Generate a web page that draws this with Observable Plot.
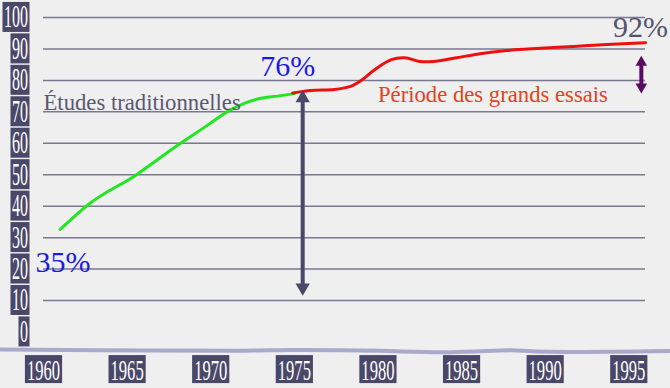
<!DOCTYPE html>
<html><head><meta charset="utf-8">
<script src="https://cdn.jsdelivr.net/npm/d3@7"></script>
<script src="https://cdn.jsdelivr.net/npm/@observablehq/plot@0.6"></script>
<style>
html,body{margin:0;padding:0;background:#efeff0;}
#chart{width:670px;height:388px;overflow:hidden;}
svg{display:block;}
</style></head><body><div id="chart"></div>
<script>
// ---- data ----
const xTicks = [1960, 1965, 1970, 1975, 1980, 1985, 1990, 1995];
const yTicks = [0, 10, 20, 30, 40, 50, 60, 70, 80, 90, 100];
const gridValues = [10, 20, 30, 40, 50, 60, 70, 80, 90, 100];

const tradYears = [1961.0, 1962.8, 1965.5, 1968.0, 1969.8, 1971.1, 1972.2, 1973.0, 1974.0, 1975.0];
const tradRates = [32.6, 41.0, 49.8, 59.3, 65.7, 70.4, 73.1, 74.3, 75.0, 75.8];

const trialYears = [1974.9, 1976.0, 1977.4, 1978.3, 1979.0, 1979.8, 1980.8, 1981.6, 1982.5, 1983.3, 1984.7, 1986.1, 1987.7, 1989.7, 1991.7, 1993.7, 1996.0];
const trialRates = [76.0, 76.8, 77.1, 78.0, 80.0, 83.4, 86.6, 87.2, 86.0, 86.0, 87.2, 88.5, 89.5, 90.2, 90.8, 91.4, 92.0];

const pctLabels = ["35%", "76%", "92%"];
const pctYears = [1961.17, 1974.6, 1995.7];
const pctValues = [22.0, 84.5, 97.0];

const periodLabels = ["Études traditionnelles", "Période des grands essais"];
const periodYears = [1960.0, 1980.0];
const periodValues = [72.9, 75.4];

const gapArrowYear = [1975.5];
const gapArrowTop = [77.0];
const gapArrowBottom = [11.5];

const trialArrowYear = [1995.75];
const trialArrowTop = [87.9];
const trialArrowBottom = [75.8];

const waveYears = [1957.4, 1963.4, 1971.2, 1974.8, 1980.1, 1984.3, 1987.9, 1990.3, 1996.3, 1997.5];
const waveLevels = [-5.6, -5.8, -6.0, -5.7, -6.0, -6.4, -5.8, -6.3, -6.1, -6.0];

// ---- chart ----
const FONT = "Liberation Serif";
const idx = (arr) => arr.map((_, i) => i);

const chart = Plot.plot({
  width: 670, height: 388,
  marginLeft: 43, marginRight: 25, marginTop: 17, marginBottom: 56.5,
  style: {background: "transparent", overflow: "visible"},
  x: {domain: [1960, 1996]},
  y: {domain: [0, 100]},
  marks: [
    Plot.line(idx(waveYears), {x: i => waveYears[i], y: i => waveLevels[i], stroke: "#9c9cc4", strokeWidth: 4, strokeOpacity: 0.85, curve: "natural"}),
    Plot.ruleY(gridValues, {stroke: "#7a7890", strokeWidth: 1.5}),
    Plot.line(idx(tradYears), {x: i => tradYears[i], y: i => tradRates[i], stroke: "#22e622", strokeWidth: 3, curve: "monotone-x"}),
    Plot.line(idx(trialYears), {x: i => trialYears[i], y: i => trialRates[i], stroke: "#ee1010", strokeWidth: 3, curve: "catmull-rom"}),
    // gap arrow
    Plot.ruleX(gapArrowYear, {x: d => d, y1: (d, i) => gapArrowTop[i], y2: (d, i) => gapArrowBottom[i], stroke: "#4a4868", strokeWidth: 4, insetTop: 9, insetBottom: 9}),
    Plot.dot(gapArrowYear, {x: d => d, y: (d, i) => gapArrowTop[i], symbol: "triangle", r: 5.3, fill: "#4a4868", dy: 8.3}),
    Plot.dot(gapArrowYear, {x: d => d, y: (d, i) => gapArrowBottom[i], symbol: "triangle", r: 5.3, fill: "#4a4868", dy: -8.3, rotate: 180}),
    // trial arrow
    Plot.ruleX(trialArrowYear, {x: d => d, y1: (d, i) => trialArrowTop[i], y2: (d, i) => trialArrowBottom[i], stroke: "#5c0b63", strokeWidth: 4, insetTop: 7, insetBottom: 7}),
    Plot.dot(trialArrowYear, {x: d => d, y: (d, i) => trialArrowTop[i], symbol: "triangle", r: 4.3, fill: "#5c0b63", dy: 6.8}),
    Plot.dot(trialArrowYear, {x: d => d, y: (d, i) => trialArrowBottom[i], symbol: "triangle", r: 4.3, fill: "#5c0b63", dy: -6.8, rotate: 180}),
    // annotations
    Plot.text(idx(pctLabels), {x: i => pctYears[i], y: i => pctValues[i], text: i => pctLabels[i], fontSize: 30, fontFamily: FONT, fill: i => i === 2 ? "#55536b" : "#1c1ce0", textAnchor: "middle"}),
    Plot.text(idx(periodLabels), {x: i => periodYears[i], y: i => periodValues[i], text: i => periodLabels[i], fontSize: 22.7, fontFamily: FONT, fill: i => i === 0 ? "#5a5870" : "#e8401c", textAnchor: "start"}),
    // axes
    Plot.axisY(yTicks, {anchor: "left", tickSize: 0, tickPadding: 15.5, fontSize: 31, fontFamily: FONT, fill: "white"}),
    Plot.axisX(xTicks, {anchor: "bottom", tickSize: 0, tickPadding: 27.5, fontSize: 29, fontFamily: FONT, fill: "white", tickFormat: d => String(d)})
  ]
});

document.getElementById("chart").append(chart);

// tick label boxes (styling)
const NS = "http://www.w3.org/2000/svg";
function boxLabels(sel, charW, padL, padR, boxFn) {
  chart.querySelectorAll(sel).forEach(t => {
    const n = t.textContent.length;
    t.setAttribute("textLength", charW * n);
    t.setAttribute("lengthAdjust", "spacingAndGlyphs");
    t.setAttribute("fill", "white");
    const b = t.getBBox();
    const r = document.createElementNS(NS, "rect");
    const [y, h] = boxFn(b);
    r.setAttribute("x", b.x - padL);
    r.setAttribute("width", b.width + padL + padR);
    r.setAttribute("y", y);
    r.setAttribute("height", h);
    r.setAttribute("fill", "#4a4868");
    r.setAttribute("stroke", "none");
    if (t.getAttribute("transform")) r.setAttribute("transform", t.getAttribute("transform"));
    t.parentNode.insertBefore(r, t);
  });
}
boxLabels('g[aria-label="y-axis tick label"] text', 8, 1.5, 1.5, b => [b.y + b.height / 2 - 15, 30]);
boxLabels('g[aria-label="x-axis tick label"] text', 8.3, 2, 2, b => [b.y + 1, 28]);
</script></body></html>
